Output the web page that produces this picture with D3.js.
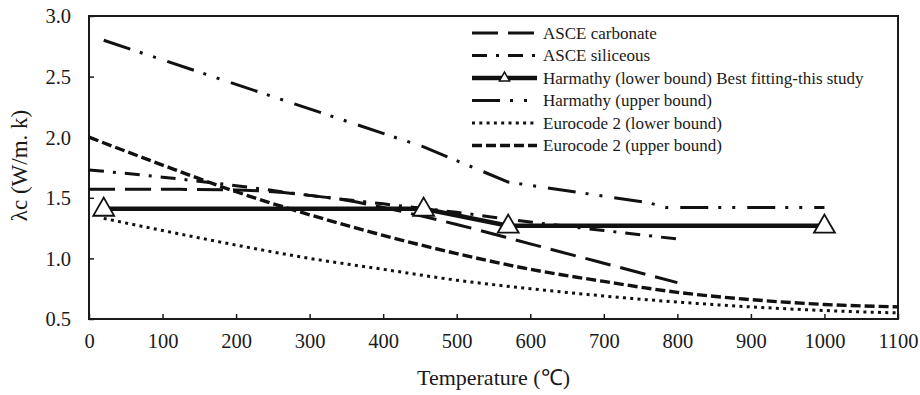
<!DOCTYPE html>
<html>
<head>
<meta charset="utf-8">
<script src="https://cdn.jsdelivr.net/npm/d3@7"></script>
<style>
  html, body { margin: 0; padding: 0; background: #fff; }
  svg { display: block; }
  text { font-family: "Liberation Serif", "Times New Roman", serif; fill: #1a1a1a; }
</style>
</head>
<body>
<svg id="chart" width="920" height="395"></svg>
<script>
// ---- data ----
const xTicks = [0, 100, 200, 300, 400, 500, 600, 700, 800, 900, 1000, 1100];
const yTicks = [0.5, 1.0, 1.5, 2.0, 2.5, 3.0];

const asceCarbT = [0, 100, 200, 250, 300, 350, 400, 500, 600, 700, 800];
const asceCarbK = [1.57, 1.57, 1.565, 1.55, 1.52, 1.48, 1.42, 1.28, 1.12, 0.96, 0.80];

const asceSilT = [0, 100, 200, 300, 400, 500, 600, 700, 800];
const asceSilK = [1.73, 1.67, 1.60, 1.52, 1.45, 1.38, 1.30, 1.23, 1.16];

const harmLowT = [20, 455, 570, 1000];
const harmLowK = [1.41, 1.41, 1.27, 1.27];

const harmUpT = [20, 455, 570, 760, 785, 1000];
const harmUpK = [2.80, 1.92, 1.63, 1.46, 1.42, 1.42];

const ecLowT = [20, 100, 200, 300, 400, 500, 600, 700, 800, 900, 1000, 1100];
const ecLowK = [1.33, 1.23, 1.11, 1.00, 0.91, 0.82, 0.75, 0.69, 0.64, 0.60, 0.57, 0.55];

const ecUpT = [0, 100, 200, 300, 400, 500, 600, 700, 800, 900, 1000, 1100];
const ecUpK = [2.00, 1.77, 1.55, 1.36, 1.19, 1.04, 0.91, 0.81, 0.72, 0.66, 0.62, 0.60];

const seriesNames = [
  "ASCE carbonate",
  "ASCE siliceous",
  "Harmathy (lower bound) Best fitting-this study",
  "Harmathy (upper bound)",
  "Eurocode 2 (lower bound)",
  "Eurocode 2 (upper bound)"
];

// ---- layout ----
const L = 89, R = 898, T = 16, B = 319;

const svg = d3.select("#chart");
const x = d3.scaleLinear().domain([0, 1100]).range([L, R]);
const y = d3.scaleLinear().domain([0.5, 3.0]).range([B, T]);

const zip = (a, b) => a.map((v, i) => [v, b[i]]);

const series = [
  { name: seriesNames[0], data: zip(asceCarbT, asceCarbK), dash: "26,10", w: 3, curve: d3.curveMonotoneX },
  { name: seriesNames[1], data: zip(asceSilT, asceSilK), dash: "15,9,3,9", w: 3, curve: d3.curveMonotoneX },
  { name: seriesNames[2], data: zip(harmLowT, harmLowK), dash: null, w: 4.5, curve: d3.curveLinear, marker: true },
  { name: seriesNames[3], data: zip(harmUpT, harmUpK), dash: "28,10,3,11,3,12", w: 3, curve: d3.curveLinear },
  { name: seriesNames[4], data: zip(ecLowT, ecLowK), dash: "3,4.3", w: 3, curve: d3.curveMonotoneX },
  { name: seriesNames[5], data: zip(ecUpT, ecUpK), dash: "10,4", w: 3.4, curve: d3.curveMonotoneX }
];

// ---- axes ----
const xAxis = d3.axisBottom(x).tickValues(xTicks).tickSize(-5).tickPadding(14).tickFormat(d3.format("d"));
const yAxis = d3.axisLeft(y).tickValues(yTicks).tickSize(-5).tickPadding(18).tickFormat(d3.format(".1f"));

const gx = svg.append("g").attr("transform", `translate(0,${B})`).call(xAxis);
const gy = svg.append("g").attr("transform", `translate(${L},0)`).call(yAxis);
[gx, gy].forEach(g => {
  g.select(".domain").remove();
  g.selectAll(".tick line").attr("stroke", "#1a1a1a").attr("stroke-width", 1.5);
  g.selectAll(".tick text").style("font-size", "20.5px").attr("fill", "#1a1a1a");
});
gy.selectAll(".tick text").attr("dy", "0.34em");

// frame
svg.append("rect")
  .attr("x", L).attr("y", T).attr("width", R - L).attr("height", B - T)
  .attr("fill", "none").attr("stroke", "#1a1a1a").attr("stroke-width", 2);

// axis titles
svg.append("text")
  .attr("x", (L + R) / 2).attr("y", 385)
  .attr("text-anchor", "middle")
  .style("font-size", "22px")
  .text("Temperature (℃)");

svg.append("text")
  .attr("transform", `translate(27,${(T + B) / 2 - 2}) rotate(-90)`)
  .attr("text-anchor", "middle")
  .style("font-size", "23px")
  .text("λc (W/m. k)");

// ---- lines ----
const plot = svg.append("g");
series.forEach(s => {
  const line = d3.line().x(d => x(d[0])).y(d => y(d[1])).curve(s.curve);
  plot.append("path")
    .datum(s.data)
    .attr("d", line)
    .attr("fill", "none")
    .attr("stroke", "#111")
    .attr("stroke-width", s.w)
    .attr("stroke-dasharray", s.dash)
    .attr("stroke-linejoin", "round");
  if (s.marker) {
    plot.selectAll(null).data(s.data).enter().append("path")
      .attr("d", d3.symbol().type(d3.symbolTriangle).size(190))
      .attr("transform", d => `translate(${x(d[0])},${y(d[1]) + 1})`)
      .attr("fill", "#fff").attr("stroke", "#111").attr("stroke-width", 1.8);
  }
});

// ---- legend ----
const lx0 = 472, lx1 = 537, ly0 = 33, ldy = 22.5;
const leg = svg.append("g");
series.forEach((s, i) => {
  const yy = ly0 + i * ldy;
  leg.append("line")
    .attr("x1", lx0).attr("x2", lx1).attr("y1", yy).attr("y2", yy)
    .attr("stroke", "#111").attr("stroke-width", s.w)
    .attr("stroke-dasharray", s.dash);
  if (s.marker) {
    leg.append("path")
      .attr("d", d3.symbol().type(d3.symbolTriangle).size(45))
      .attr("transform", `translate(${(lx0 + lx1) / 2},${yy})`)
      .attr("fill", "#fff").attr("stroke", "#111").attr("stroke-width", 1.5);
  }
  leg.append("text")
    .attr("x", 543).attr("y", yy).attr("dy", "0.33em")
    .style("font-size", "17px")
    .text(s.name);
});
</script>
</body>
</html>
